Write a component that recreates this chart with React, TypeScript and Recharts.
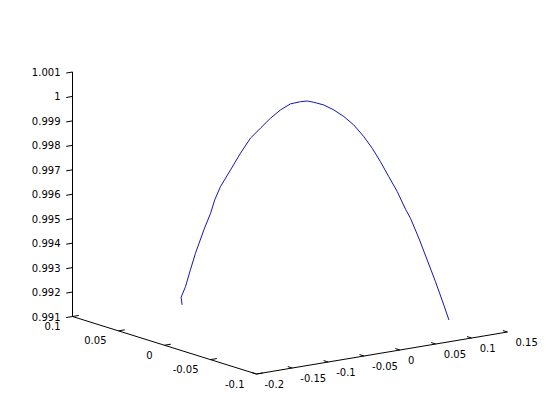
import { ScatterChart, Scatter, XAxis, YAxis, ReferenceLine } from 'recharts'

// axis limits of the 3-D box
const X_RANGE = [-0.2, 0.15]
const Y_RANGE = [-0.1, 0.1]
const Z_RANGE = [0.991, 1.001]

const X_TICKS = [-0.2, -0.15, -0.1, -0.05, 0, 0.05, 0.1, 0.15]
const X_TICK_LABELS = ['-0.2', '-0.15', '-0.1', '-0.05', '0', '0.05', '0.1', '0.15']
const Y_TICKS = [0.1, 0.05, 0, -0.05, -0.1]
const Y_TICK_LABELS = ['0.1', '0.05', '0', '-0.05', '-0.1']
const Z_TICKS = [0.991, 0.992, 0.993, 0.994, 0.995, 0.996, 0.997, 0.998, 0.999, 1, 1.001]
const Z_TICK_LABELS = ['0.991', '0.992', '0.993', '0.994', '0.995', '0.996', '0.997', '0.998', '0.999', '1', '1.001']

// trajectory
const curveX = [-0.1205, -0.1214, -0.1175, -0.1131, -0.1086, -0.1011, -0.0951, -0.0913, -0.0862, -0.0772, -0.0683, -0.0593, -0.0504, -0.0414, -0.0325, -0.0235, -0.0146, -0.0086, -0.0027, 0.0063, 0.0152, 0.0242, 0.0331, 0.0421, 0.0496, 0.057, 0.0644, 0.072, 0.0794, 0.0839, 0.0913, 0.0988, 0.1062, 0.1137, 0.1182]
const curveY = [0.0428, 0.0432, 0.0415, 0.0396, 0.0376, 0.0343, 0.0317, 0.0301, 0.0279, 0.0239, 0.0201, 0.0162, 0.0123, 0.0084, 0.0045, 0.0006, -0.0033, -0.0059, -0.0085, -0.0124, -0.0163, -0.0202, -0.024, -0.028, -0.0312, -0.0344, -0.0377, -0.041, -0.0442, -0.0461, -0.0494, -0.0526, -0.0558, -0.0591, -0.0611]
const curveZ = [0.99176, 0.99207, 0.9925, 0.99319, 0.99387, 0.99483, 0.99551, 0.99606, 0.9966, 0.99729, 0.99797, 0.99859, 0.999, 0.99941, 0.99975, 1.0, 1.00009, 1.00012, 1.00007, 0.99996, 0.99976, 0.99949, 0.99915, 0.99867, 0.9982, 0.99765, 0.99704, 0.99643, 0.99571, 0.99534, 0.99453, 0.99364, 0.99276, 0.9918, 0.99119]

// orthographic view: screen px per full axis span (matches the default 3-D view)
const VIEW = { ux: 251, uy: -184, vx: 42, vy: 57.5, vz: 244.5 }

function project(x: number, y: number, z: number) {
  const xn = (x - X_RANGE[0]) / (X_RANGE[1] - X_RANGE[0])
  const yn = (y - Y_RANGE[0]) / (Y_RANGE[1] - Y_RANGE[0])
  const zn = (z - Z_RANGE[0]) / (Z_RANGE[1] - Z_RANGE[0])
  return { x: VIEW.ux * xn + VIEW.uy * yn, y: VIEW.vx * xn + VIEW.vy * yn + VIEW.vz * zn }
}

const [x0, x1] = X_RANGE
const [y0, y1] = Y_RANGE
const [z0, z1] = Z_RANGE
const TICK = 0.025 // tick length as fraction of axis span

const curve = curveX.map((x, i) => project(x, curveY[i], curveZ[i]))

const axes = [
  [project(x0, y1, z0), project(x0, y1, z1)], // z
  [project(x0, y1, z0), project(x0, y0, z0)], // y
  [project(x0, y0, z0), project(x1, y0, z0)], // x
]

const ticks = [
  ...Z_TICKS.map((z) => [project(x0, y1, z), project(x0 - TICK * (x1 - x0), y1, z)]),
  ...Y_TICKS.map((y) => [project(x0, y, z0), project(x0 + TICK * (x1 - x0), y, z0)]),
  ...X_TICKS.map((x) => [project(x, y0, z0), project(x, y0 + TICK * (y1 - y0), z0)]),
]

const zLabels = Z_TICKS.map((z, i) => ({ ...project(x0, y1, z), label: Z_TICK_LABELS[i] }))
const yLabels = Y_TICKS.map((y, i) => ({ ...project(x0, y, z0), label: Y_TICK_LABELS[i] }))
const xLabels = X_TICKS.map((x, i) => ({ ...project(x, y0, z0), label: X_TICK_LABELS[i] }))

const font = { fontFamily: 'DejaVu Sans', fontSize: 10, fill: '#000' }

const labelShape = (dx: number, dy: number, anchor: string) => (p: any) => (
  <text x={p.cx + dx} y={p.cy + dy} textAnchor={anchor} dominantBaseline="central" {...font}>
    {p.payload.label}
  </text>
)

const noDot = () => <g />

export default function App() {
  return (
    <div style={{ position: 'absolute', left: 0, top: 0, width: 560, height: 420, background: '#fff' }}>
      <ScatterChart width={560} height={420} margin={{ top: 0, right: 0, bottom: 0, left: 0 }}>
        <XAxis type="number" dataKey="x" domain={[-256.5, 303.5]} allowDataOverflow hide />
        <YAxis type="number" dataKey="y" domain={[-46, 374]} allowDataOverflow hide />
        {axes.map((s, i) => (
          <ReferenceLine key={`a${i}`} segment={s} stroke="#000" strokeWidth={1} ifOverflow="visible" />
        ))}
        {ticks.map((s, i) => (
          <ReferenceLine key={`t${i}`} segment={s} stroke="#000" strokeWidth={1} ifOverflow="visible" />
        ))}
        <Scatter data={zLabels} shape={labelShape(-12, 0.5, 'end')} isAnimationActive={false} />
        <Scatter data={yLabels} shape={labelShape(-12, 10, 'end')} isAnimationActive={false} />
        <Scatter data={xLabels} shape={labelShape(8, 10, 'start')} isAnimationActive={false} />
        <Scatter
          data={curve}
          fill="#1515b0"
          line={{ stroke: '#1515b0', strokeWidth: 1 }}
          shape={noDot}
          isAnimationActive={false}
        />
      </ScatterChart>
    </div>
  )
}
